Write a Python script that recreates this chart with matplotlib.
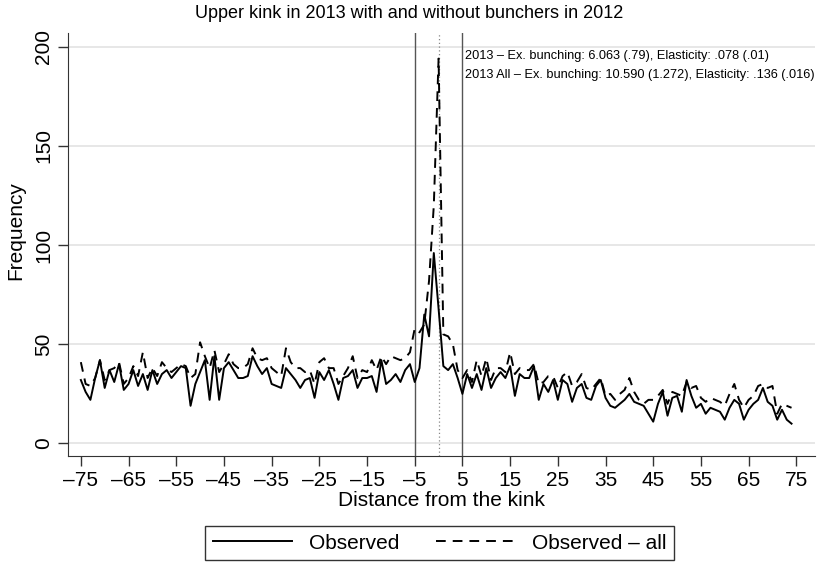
import numpy as np
import matplotlib
matplotlib.use("Agg")
import matplotlib.pyplot as plt

plt.rcParams["font.family"] = ["Liberation Sans", "DejaVu Sans"]

# ── data: distance from kink, observed counts ─────────────────────────────
distance = np.arange(-75, 75)

observed = [
    32, 26, 22, 33, 42, 28, 37, 31, 40, 27,   # -75 .. -66
    30, 37, 29, 35, 27, 37, 30, 35, 37, 33,   # -65 .. -56
    36, 39, 38, 19, 30, 36, 42, 22, 44, 22,   # -55 .. -46
    38, 41, 37, 33, 33, 34, 44, 39, 35, 38,   # -45 .. -36
    30, 29, 28, 38, 35, 32, 28, 32, 33, 23,   # -35 .. -26
    36, 32, 37, 30, 22, 33, 34, 37, 28, 33,   # -25 .. -16
    33, 34, 26, 42, 30, 32, 35, 31, 37, 40,   # -15 .. -6
    31, 38, 65, 54, 96, 68, 39, 37, 40, 33,   # -5 .. 4
    25, 35, 28, 35, 27, 38, 28, 33, 36, 33,   # 5 .. 14
    39, 24, 35, 33, 33, 39, 22, 30, 26, 32,   # 15 .. 24
    22, 32, 30, 21, 28, 30, 23, 22, 29, 32,   # 25 .. 34
    23, 19, 18, 20, 22, 25, 21, 20, 19, 15,   # 35 .. 44
    11, 20, 26, 14, 23, 24, 16, 32, 24, 18,   # 45 .. 54
    20, 15, 18, 17, 16, 12, 18, 22, 20, 12,   # 55 .. 64
    17, 20, 22, 28, 21, 19, 12, 17, 12, 10,   # 65 .. 74
]

observed_all = [
    41, 30, 29, 33, 42, 32, 37, 38, 41, 30,   # -75 .. -66
    33, 39, 34, 46, 33, 38, 34, 41, 38, 36,   # -65 .. -56
    38, 40, 39, 33, 35, 51, 44, 38, 47, 36,   # -55 .. -46
    40, 45, 40, 38, 38, 40, 48, 43, 42, 43,   # -45 .. -36
    38, 36, 34, 48, 41, 38, 38, 36, 37, 30,   # -35 .. -26
    41, 43, 38, 38, 30, 34, 38, 44, 33, 37,   # -25 .. -16
    36, 42, 37, 44, 40, 44, 43, 42, 43, 46,   # -15 .. -6
    58, 56, 60, 82, 120, 194, 55, 54, 50, 37, # -5 .. 4
    33, 37, 31, 42, 34, 43, 32, 38, 38, 36,   # 5 .. 14
    46, 35, 38, 37, 37, 40, 30, 31, 34, 34,   # 15 .. 24
    28, 34, 36, 29, 31, 35, 28, 27, 30, 33,   # 25 .. 34
    24, 25, 22, 25, 27, 33, 26, 22, 20, 22,   # 35 .. 44
    22, 24, 27, 20, 26, 25, 24, 31, 28, 29,   # 45 .. 54
    23, 21, 23, 22, 21, 19, 25, 30, 22, 18,   # 55 .. 64
    22, 24, 29, 30, 28, 29, 15, 20, 19, 18,   # 65 .. 74
]

x_ticks = np.arange(-75, 76, 10)
y_ticks = [0, 50, 100, 150, 200]
kink_lo, kink_hi = -5, 5

notes = [
    "2013 \u2013 Ex. bunching: 6.063 (.79), Elasticity: .078 (.01)",
    "2013 All \u2013 Ex. bunching: 10.590 (1.272), Elasticity: .136 (.016)",
]

fig = plt.figure(figsize=(8.19, 5.66), dpi=100)
ax = fig.add_axes([0.083, 0.194, 0.912, 0.747])

for yv in y_ticks:
    ax.axhline(yv, color="#e3e3e3", lw=1.2, zorder=0)

ax.axvline(kink_lo, color="#555555", lw=1.0, zorder=1)
ax.axvline(kink_hi, color="#555555", lw=1.0, zorder=1)
ax.axvline(0, color="#888888", lw=0.9, ls=(0, (1, 2)), zorder=1)

ax.plot(distance, observed, color="black", lw=1.4, label="Observed", zorder=3)
ax.plot(distance, observed_all, color="black", lw=1.4, ls=(0, (5, 3.6)),
        label="Observed \u2013 all", zorder=3)

ax.text(5.5, 195.5, notes[0], fontsize=9.2, va="center", ha="left")
ax.text(5.5, 185.5, notes[1], fontsize=9.2, va="center", ha="left")

ax.set_xlim(-77.7, 78.9)
ax.set_ylim(-6.4, 206.7)
ax.set_xticks(x_ticks)
ax.set_xticklabels([str(v).replace("-", "\u2013") for v in x_ticks])
ax.set_yticks(y_ticks)
ax.set_yticklabels([str(v) for v in y_ticks], rotation=90, va="center")
ax.tick_params(axis="both", labelsize=15, length=7, width=1, color="#333333")

for side in ("top", "right"):
    ax.spines[side].set_visible(False)
for side in ("left", "bottom"):
    ax.spines[side].set_color("#333333")

ax.set_xlabel("Distance from the kink", fontsize=15, labelpad=1)
ax.set_ylabel("Frequency", fontsize=15)
ax.yaxis.set_label_coords(-0.0576, 0.534)
fig.text(0.5, 0.977, "Upper kink in 2013 with and without bunchers in 2012",
         fontsize=13, ha="center", va="center")

leg = fig.legend(loc="lower center", bbox_to_anchor=(0.537, 0.0106), ncol=2,
                 fontsize=15, frameon=True, fancybox=False, handlelength=3.8,
                 columnspacing=1.8, borderpad=0.35, borderaxespad=0)
leg.get_frame().set_edgecolor("black")
leg.get_frame().set_linewidth(1.0)

fig.savefig("out.png", dpi=100)
